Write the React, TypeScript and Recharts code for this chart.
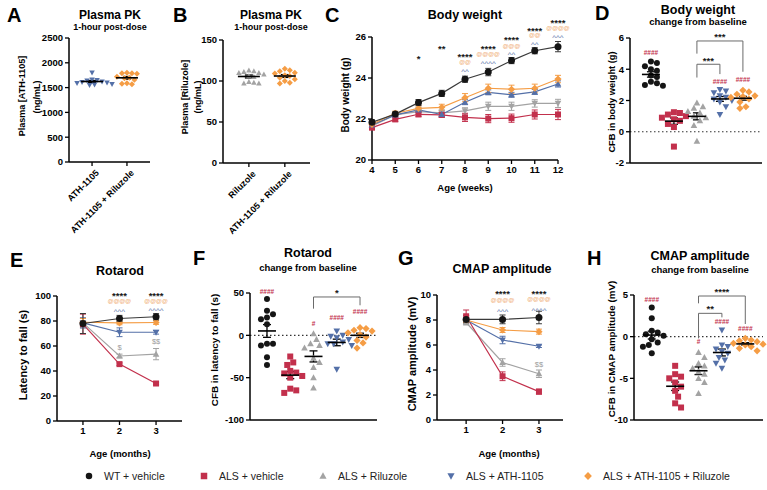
import React from 'react';
import {
  ScatterChart,
  ComposedChart,
  Scatter,
  Line,
  XAxis,
  YAxis,
  ErrorBar,
  ReferenceLine,
  ReferenceDot,
} from 'recharts';

const FONT = '"Liberation Sans", Arial, Helvetica, sans-serif';

type Kind = 'circle' | 'square' | 'up' | 'down' | 'diamond';
type GroupKey = 'wt' | 'als' | 'ril' | 'ath' | 'combo';

const GROUPS: Record<GroupKey, { name: string; color: string; line: string; kind: Kind }> = {
  wt: { name: 'WT + vehicle', color: '#151515', line: '#3a3a3a', kind: 'circle' },
  als: { name: 'ALS + vehicle', color: '#c2304c', line: '#c2304c', kind: 'square' },
  ril: { name: 'ALS + Riluzole', color: '#a3a3a3', line: '#a3a3a3', kind: 'up' },
  ath: { name: 'ALS + ATH-1105', color: '#5470a8', line: '#5470a8', kind: 'down' },
  combo: { name: 'ALS + ATH-1105 + Riluzole', color: '#f59d45', line: '#f59d45', kind: 'diamond' },
};
const LEGEND_ORDER: GroupKey[] = ['wt', 'als', 'ril', 'ath', 'combo'];

// ---- Plasma PK, 1 h post-dose
const pkAthLabels = ['ATH-1105', 'ATH-1105 + Riluzole'];
const pkAth_ath = [1800, 1660, 1650, 1640, 1620, 1610, 1600, 1590, 1570, 1560, 1550];
const pkAth_combo = [1800, 1790, 1790, 1780, 1720, 1700, 1690, 1660, 1590, 1580, 1570];

const pkRilLabels = ['Riluzole', 'ATH-1105 + Riluzole'];
const pkRil_ril = [113, 112, 111, 110, 110, 108, 106, 105, 99, 98, 97, 97];
const pkRil_combo = [115, 113, 112, 110, 109, 107, 106, 104, 102, 100, 98, 97];

// ---- Body weight by week (mean, SEM)
const weeks = [4, 5, 6, 7, 8, 9, 10, 11, 12];
const bw_wt = [21.84, 22.24, 22.8, 23.25, 23.94, 24.29, 24.85, 25.33, 25.53];
const bw_wtErr = [0.12, 0.1, 0.15, 0.15, 0.15, 0.18, 0.15, 0.15, 0.25];
const bw_als = [21.58, 21.98, 22.23, 22.2, 22.08, 22.02, 22.04, 22.22, 22.22];
const bw_alsErr = [0.1, 0.1, 0.12, 0.12, 0.2, 0.2, 0.2, 0.22, 0.25];
const bw_ril = [21.66, 22.2, 22.36, 22.3, 22.4, 22.62, 22.62, 22.76, 22.76];
const bw_rilErr = [0.1, 0.1, 0.12, 0.15, 0.15, 0.2, 0.2, 0.18, 0.2];
const bw_ath = [21.71, 22.2, 22.44, 22.22, 22.82, 23.3, 23.18, 23.32, 23.71];
const bw_athErr = [0.1, 0.1, 0.1, 0.12, 0.12, 0.12, 0.12, 0.12, 0.15];
const bw_combo = [21.74, 22.28, 22.52, 22.57, 23.04, 23.5, 23.45, 23.5, 23.95];
const bw_comboErr = [0.1, 0.1, 0.12, 0.15, 0.2, 0.2, 0.2, 0.2, 0.18];

// ---- Body weight change from baseline
const bwCfb_wt = [4.5, 4.4, 4.2, 4.0, 3.9, 3.6, 3.5, 3.2, 3.1, 3.0, 2.95];
const bwCfb_als = [1.25, 1.2, 1.1, 1.0, 0.9, 0.8, 0.7, 0.5, 0.3, -0.95];
const bwCfb_ril = [1.85, 1.6, 1.5, 1.3, 1.2, 1.0, 0.9, 0.7, 0.4, -0.6];
const bwCfb_ath = [2.7, 2.6, 2.5, 2.3, 2.2, 2.1, 2.0, 1.9, 1.6, 1.1];
const bwCfb_combo = [2.65, 2.55, 2.4, 2.3, 2.25, 2.2, 2.1, 1.9, 1.6, 1.5];

// ---- Rotarod by month
const months = [1, 2, 3];
const rr_wt = [78, 82, 83.4];
const rr_wtErr = [8, 2.5, 2.5];
const rr_als = [77.5, 45.5, 30];
const rr_alsErr = [8, 1, 1];
const rr_ril = [78.5, 52, 53.5];
const rr_rilErr = [4, 1.5, 4.5];
const rr_ath = [78.5, 71, 71];
const rr_athErr = [4, 3.5, 1.5];
const rr_combo = [79, 78.5, 78.8];
const rr_comboErr = [3, 1.5, 1.5];

// ---- Rotarod change from baseline
const rrCfb_wt = [43, 29, 25, 21, 19, 13, -10, -10, -12, -26, -35];
const rrCfb_als = [-25, -32, -35, -42, -44, -45, -48, -50, -63, -65, -68];
const rrCfb_ril = [2, -5, -10, -12, -15, -27, -32, -38, -50, -62];
const rrCfb_ath = [5, 0, -1, -3, -5, -8, -10, -10, -12, -40];
const rrCfb_combo = [9, 8, 6, 5, 3, 1, -2, -6, -9, -15];

// ---- CMAP amplitude by month
const cm_wt = [8.05, 8.05, 8.2];
const cm_wtErr = [0.3, 0.35, 0.5];
const cm_als = [8.3, 3.5, 2.27];
const cm_alsErr = [0.5, 0.35, 0.2];
const cm_ril = [7.8, 4.6, 3.7];
const cm_rilErr = [0.2, 0.3, 0.3];
const cm_ath = [8.0, 6.4, 5.9];
const cm_athErr = [0.2, 0.3, 0.1];
const cm_combo = [8.0, 7.2, 7.07];
const cm_comboErr = [0.2, 0.2, 0.2];

// ---- CMAP change from baseline
const cmCfb_wt = [3.5, 2.2, 0.7, 0.5, 0.3, 0.1, -0.3, -0.7, -1.0, -1.2, -2.0];
const cmCfb_als = [-3.5, -4.5, -4.8, -5.0, -5.5, -6.0, -6.5, -7.2, -8.0, -8.5];
const cmCfb_ril = [-1.9, -2.5, -3.2, -3.5, -3.8, -4.2, -4.5, -5.0, -5.5, -6.8];
const cmCfb_ath = [0.8, -1.0, -1.2, -1.5, -1.8, -2.0, -2.5, -2.8, -3.2, -3.8];
const cmCfb_combo = [-0.2, -0.4, -0.5, -0.6, -0.8, -0.9, -1.0, -1.2, -1.4, -1.7];

// ---- significance marks (x, y in data units)
type NoteKind = 'star' | 'at' | 'caret' | 'hash' | 'dollar';
type Note = { x: number; y: number; text: string; kind: NoteKind };
type Bracket = { from: number; to: number; top: number; left: number; right: number };

const bwNotes: Note[] = [
  { x: 6, y: 25.1, text: '*', kind: 'star' },
  { x: 7, y: 25.6, text: '**', kind: 'star' },
  { x: 8, y: 25.2, text: '****', kind: 'star' },
  { x: 8, y: 24.8, text: '@@', kind: 'at' },
  { x: 8, y: 24.42, text: '^^', kind: 'caret' },
  { x: 9, y: 25.6, text: '****', kind: 'star' },
  { x: 9, y: 25.2, text: '@@@@', kind: 'at' },
  { x: 9, y: 24.83, text: '^^^^', kind: 'caret' },
  { x: 10, y: 26.0, text: '****', kind: 'star' },
  { x: 10, y: 25.6, text: '@@@', kind: 'at' },
  { x: 10, y: 25.25, text: '^^', kind: 'caret' },
  { x: 11, y: 26.47, text: '****', kind: 'star' },
  { x: 11, y: 26.1, text: '@@', kind: 'at' },
  { x: 11, y: 25.74, text: '^^', kind: 'caret' },
  { x: 12, y: 26.86, text: '****', kind: 'star' },
  { x: 12, y: 26.45, text: '@@@@', kind: 'at' },
  { x: 12, y: 26.1, text: '^^^', kind: 'caret' },
];

const bwCfbNotes: Note[] = [
  { x: 1, y: 5.11, text: '####', kind: 'hash' },
  { x: 4, y: 3.24, text: '####', kind: 'hash' },
  { x: 5, y: 3.35, text: '####', kind: 'hash' },
  { x: 4, y: 6.28, text: '***', kind: 'star' },
  { x: 3.5, y: 4.75, text: '***', kind: 'star' },
];
const bwCfbBrackets: Bracket[] = [
  { from: 3, to: 5, top: 5.81, left: 5.0, right: 3.84 },
  { from: 3, to: 4, top: 4.32, left: 3.47, right: 3.69 },
];

const rrNotes: Note[] = [
  { x: 2, y: 102.7, text: '****', kind: 'star' },
  { x: 2, y: 96, text: '@@@@', kind: 'at' },
  { x: 2, y: 89.8, text: '^^^', kind: 'caret' },
  { x: 2, y: 58.8, text: '$', kind: 'dollar' },
  { x: 3, y: 102.7, text: '****', kind: 'star' },
  { x: 3, y: 96.3, text: '@@@@', kind: 'at' },
  { x: 3, y: 90, text: '^^^^', kind: 'caret' },
  { x: 3, y: 64.2, text: '$$', kind: 'dollar' },
];

const rrCfbNotes: Note[] = [
  { x: 1, y: 52, text: '####', kind: 'hash' },
  { x: 3, y: 13.9, text: '#', kind: 'hash' },
  { x: 4, y: 21, text: '####', kind: 'hash' },
  { x: 5, y: 28.8, text: '####', kind: 'hash' },
  { x: 4, y: 54.3, text: '*', kind: 'star' },
];
const rrCfbBrackets: Bracket[] = [{ from: 3, to: 5, top: 45.3, left: 31.5, right: 35.5 }];

const cmNotes: Note[] = [
  { x: 2, y: 10.35, text: '****', kind: 'star' },
  { x: 2, y: 9.6, text: '@@@@', kind: 'at' },
  { x: 2, y: 8.85, text: '^^^', kind: 'caret' },
  { x: 3, y: 10.35, text: '****', kind: 'star' },
  { x: 3, y: 9.68, text: '@@@@', kind: 'at' },
  { x: 3, y: 8.99, text: '^^^^', kind: 'caret' },
  { x: 3, y: 4.48, text: '$$', kind: 'dollar' },
];

const cmCfbNotes: Note[] = [
  { x: 1, y: 4.52, text: '####', kind: 'hash' },
  { x: 3, y: -0.6, text: '#', kind: 'hash' },
  { x: 4, y: 1.8, text: '####', kind: 'hash' },
  { x: 5, y: 1.0, text: '####', kind: 'hash' },
  { x: 4, y: 5.8, text: '****', kind: 'star' },
  { x: 3.5, y: 3.68, text: '**', kind: 'star' },
];
const cmCfbBrackets: Bracket[] = [
  { from: 3, to: 5, top: 4.88, left: 4.0, right: 1.52 },
  { from: 3, to: 4, top: 2.8, left: -0.2, right: 2.32 },
];

// ---- helpers
const mean = (a: number[]) => a.reduce((s, v) => s + v, 0) / a.length;
const sem = (a: number[]) => {
  const m = mean(a);
  const sd = Math.sqrt(a.reduce((s, v) => s + (v - m) ** 2, 0) / (a.length - 1));
  return sd / Math.sqrt(a.length);
};

// simple beeswarm so that overlapping dots spread sideways
function swarm(values: number[], center: number, pxX: number, pxY: number, gap: number) {
  const placed: { dx: number; py: number; v: number }[] = [];
  [...values]
    .sort((a, b) => b - a)
    .forEach((v) => {
      const py = v * pxY;
      let dx = 0;
      for (let k = 0; k < 20; k++) {
        const cand = k === 0 ? 0 : (k % 2 === 1 ? 1 : -1) * Math.ceil(k / 2) * gap * 0.5;
        if (placed.every((p) => Math.hypot(p.dx - cand, p.py - py) >= gap)) {
          dx = cand;
          break;
        }
      }
      placed.push({ dx, py, v });
    });
  return placed.map((p) => ({ x: center + p.dx / pxX, y: p.v }));
}

function Marker({ kind, cx, cy, size, fill }: { kind: Kind; cx: number; cy: number; size: number; fill: string }) {
  const h = size / 2;
  switch (kind) {
    case 'circle':
      return <circle cx={cx} cy={cy} r={h} fill={fill} />;
    case 'square':
      return <rect x={cx - h} y={cy - h} width={size} height={size} fill={fill} />;
    case 'up':
      return <polygon points={`${cx},${cy - h * 1.15} ${cx + h * 1.1},${cy + h * 0.85} ${cx - h * 1.1},${cy + h * 0.85}`} fill={fill} />;
    case 'down':
      return <polygon points={`${cx},${cy + h * 1.15} ${cx + h * 1.1},${cy - h * 0.85} ${cx - h * 1.1},${cy - h * 0.85}`} fill={fill} />;
    default:
      return <polygon points={`${cx},${cy - h * 1.2} ${cx + h * 1.2},${cy} ${cx},${cy + h * 1.2} ${cx - h * 1.2},${cy}`} fill={fill} />;
  }
}

const NOTE_STYLE: Record<NoteKind, { color: string; size: number; dy: string; weight: number }> = {
  star: { color: '#1a1a1a', size: 9.5, dy: '0.3em', weight: 700 },
  at: { color: '#f0ae76', size: 6, dy: '0.05em', weight: 700 },
  caret: { color: '#5470a8', size: 8, dy: '0.3em', weight: 400 },
  hash: { color: '#c2304c', size: 6.5, dy: '0.05em', weight: 700 },
  dollar: { color: '#9a9a9a', size: 7.5, dy: '0.05em', weight: 400 },
};

function NoteText({ cx, cy, note }: { cx: number; cy: number; note: Note }) {
  const s = NOTE_STYLE[note.kind];
  return (
    <text x={cx} y={cy} dy={s.dy} textAnchor="middle" dominantBaseline="central" fill={s.color} fontSize={s.size} fontWeight={s.weight} fontFamily={FONT}>
      {note.text}
    </text>
  );
}

const renderNotes = (notes: Note[]) =>
  notes.map((n, i) => (
    <ReferenceDot
      key={`n${i}`}
      x={n.x}
      y={n.y}
      r={0}
      ifOverflow="visible"
      shape={(p: any) => <NoteText cx={p.cx} cy={p.cy} note={n} />}
    />
  ));

const renderBrackets = (brackets: Bracket[]) =>
  brackets.flatMap((b, i) => {
    const common = { stroke: '#6a6a6a', strokeWidth: 1, ifOverflow: 'visible' as const };
    return [
      <ReferenceLine key={`b${i}a`} segment={[{ x: b.from, y: b.left }, { x: b.from, y: b.top }]} {...common} />,
      <ReferenceLine key={`b${i}b`} segment={[{ x: b.from, y: b.top }, { x: b.to, y: b.top }]} {...common} />,
      <ReferenceLine key={`b${i}c`} segment={[{ x: b.to, y: b.top }, { x: b.to, y: b.right }]} {...common} />,
    ];
  });

const YW = 36;
const MT = 44;
const MR = 14;
const AXIS = { stroke: '#000', strokeWidth: 1.5 };
const TICK = { stroke: '#000', strokeWidth: 1.3 };
const TICK_TEXT = { fill: '#000', fontSize: 9.5, fontWeight: 700, fontFamily: FONT };

type Plot = { x0: number; y0: number; x1: number; y1: number };

function SlantTick({ x, y, payload, labels }: any) {
  const ax = x + 3;
  const ay = y + 1;
  return (
    <text x={ax} y={ay} transform={`rotate(-45 ${ax} ${ay})`} textAnchor="end" dominantBaseline="hanging" fontSize={9} fontWeight={700} fontFamily={FONT} fill="#000">
      {labels[Math.round(payload.value) - 1]}
    </text>
  );
}

type DotSet = { group: GroupKey; values: number[] };

function DotPanel({
  plot,
  xDomain,
  yDomain,
  yTicks,
  sets,
  notes = [],
  brackets = [],
  zero = false,
  xLabels,
  half = 9,
  size = 6,
}: {
  plot: Plot;
  xDomain: [number, number];
  yDomain: [number, number];
  yTicks: number[];
  sets: DotSet[];
  notes?: Note[];
  brackets?: Bracket[];
  zero?: boolean;
  xLabels?: string[];
  half?: number;
  size?: number;
}) {
  const xh = xLabels ? 90 : 8;
  const width = plot.x1 - plot.x0 + YW + MR;
  const height = plot.y1 - plot.y0 + MT + xh;
  const pxX = (plot.x1 - plot.x0) / (xDomain[1] - xDomain[0]);
  const pxY = (plot.y1 - plot.y0) / (yDomain[1] - yDomain[0]);
  return (
    <div style={{ position: 'absolute', left: plot.x0 - YW, top: plot.y0 - MT }}>
      <ScatterChart width={width} height={height} margin={{ top: MT, right: MR, left: 0, bottom: 0 }}>
        <XAxis
          type="number"
          dataKey="x"
          domain={xDomain}
          ticks={xLabels ? xLabels.map((_, i) => i + 1) : [1]}
          interval={0}
          height={xh}
          axisLine={AXIS}
          tickLine={xLabels ? TICK : false}
          tickSize={4}
          tick={xLabels ? (p: any) => <SlantTick {...p} labels={xLabels} /> : false}
        />
        <YAxis
          type="number"
          dataKey="y"
          domain={yDomain}
          ticks={yTicks}
          interval={0}
          width={YW}
          axisLine={AXIS}
          tickLine={TICK}
          tickSize={4}
          tick={TICK_TEXT}
        />
        {zero && <ReferenceLine y={0} stroke="#333" strokeWidth={1.2} strokeDasharray="1.5 2.5" />}
        {sets.map((s, i) => {
          const g = GROUPS[s.group];
          return (
            <Scatter
              key={`pts${i}`}
              data={swarm(s.values, i + 1, pxX, pxY, size)}
              isAnimationActive={false}
              shape={(p: any) => <Marker kind={g.kind} cx={p.cx} cy={p.cy} size={size} fill={g.color} />}
            />
          );
        })}
        {sets.map((s, i) => (
          <Scatter
            key={`avg${i}`}
            data={[{ x: i + 1, y: mean(s.values), err: sem(s.values) }]}
            isAnimationActive={false}
            shape={(p: any) => <line x1={p.cx - half} x2={p.cx + half} y1={p.cy} y2={p.cy} stroke="#000" strokeWidth={1.6} />}
          >
            <ErrorBar dataKey="err" direction="y" width={4} stroke="#000" strokeWidth={1.3} />
          </Scatter>
        ))}
        {renderBrackets(brackets)}
        {renderNotes(notes)}
      </ScatterChart>
    </div>
  );
}

type Series = { group: GroupKey; values: number[]; errs: number[] };

function LinePanel({
  plot,
  xs,
  xDomain,
  yDomain,
  yTicks,
  series,
  notes,
  kinds = {},
}: {
  plot: Plot;
  xs: number[];
  xDomain: [number, number];
  yDomain: [number, number];
  yTicks: number[];
  series: Series[];
  notes: Note[];
  kinds?: Partial<Record<GroupKey, Kind>>;
}) {
  const xh = 24;
  const width = plot.x1 - plot.x0 + YW + MR;
  const height = plot.y1 - plot.y0 + MT + xh;
  const rows = xs.map((x, i) => {
    const row: Record<string, number> = { x };
    series.forEach((s) => {
      row[s.group] = s.values[i];
      row[`${s.group}Err`] = s.errs[i];
    });
    return row;
  });
  return (
    <div style={{ position: 'absolute', left: plot.x0 - YW, top: plot.y0 - MT }}>
      <ComposedChart width={width} height={height} data={rows} margin={{ top: MT, right: MR, left: 0, bottom: 0 }}>
        <XAxis
          type="number"
          dataKey="x"
          domain={xDomain}
          ticks={xs}
          interval={0}
          height={xh}
          axisLine={AXIS}
          tickLine={TICK}
          tickSize={4}
          tick={TICK_TEXT}
        />
        <YAxis
          type="number"
          domain={yDomain}
          ticks={yTicks}
          interval={0}
          width={YW}
          axisLine={AXIS}
          tickLine={TICK}
          tickSize={4}
          tick={TICK_TEXT}
        />
        {series.map((s) => {
          const g = GROUPS[s.group];
          const kind = kinds[s.group] ?? g.kind;
          return (
            <Line
              key={s.group}
              type="linear"
              dataKey={s.group}
              stroke={g.line}
              strokeWidth={1.2}
              isAnimationActive={false}
              activeDot={false}
              dot={(p: any) => (
                <Marker key={`${s.group}-${p.index}`} kind={kind} cx={p.cx} cy={p.cy} size={s.group === 'wt' ? 7 : 6} fill={g.color} />
              )}
            >
              <ErrorBar dataKey={`${s.group}Err`} direction="y" width={3} stroke={g.line} strokeWidth={1} />
            </Line>
          );
        })}
        {renderNotes(notes)}
      </ComposedChart>
    </div>
  );
}

// ---- text drawn around the panels
const panelLetters = [
  { t: 'A', x: 7, y: 22 },
  { t: 'B', x: 173, y: 22 },
  { t: 'C', x: 325, y: 22 },
  { t: 'D', x: 595, y: 20 },
  { t: 'E', x: 10, y: 267 },
  { t: 'F', x: 193, y: 265 },
  { t: 'G', x: 398, y: 265 },
  { t: 'H', x: 587, y: 265 },
];

const titles = [
  { t: 'Plasma PK', x: 110, y: 18.5, s: 12 },
  { t: '1-hour post-dose', x: 110, y: 30, s: 9 },
  { t: 'Plasma PK', x: 271, y: 18.5, s: 12 },
  { t: '1-hour post-dose', x: 271, y: 30, s: 9 },
  { t: 'Body weight', x: 465, y: 19, s: 12.5 },
  { t: 'Body weight', x: 698, y: 13.5, s: 12.5 },
  { t: 'change from baseline', x: 698, y: 25, s: 9.5 },
  { t: 'Rotarod', x: 120, y: 275, s: 12.5 },
  { t: 'Rotarod', x: 308, y: 257, s: 12.5 },
  { t: 'change from baseline', x: 308, y: 271, s: 9.5 },
  { t: 'CMAP amplitude', x: 502, y: 273, s: 12.5 },
  { t: 'CMAP amplitude', x: 700, y: 260, s: 12.5 },
  { t: 'change from baseline', x: 700, y: 273, s: 9.5 },
];

const yTitles = [
  { t: 'Plasma [ATH-1105]', x: 22, y: 96, s: 9 },
  { t: '(ng/mL)', x: 37, y: 97, s: 9 },
  { t: 'Plasma [Riluzole]', x: 185, y: 97, s: 9 },
  { t: '(ng/mL)', x: 198, y: 97, s: 9 },
  { t: 'Body weight (g)', x: 345, y: 95, s: 10 },
  { t: 'CFB in body weight (g)', x: 612, y: 102, s: 9.3 },
  { t: 'Latency to fall (s)', x: 23, y: 355, s: 11 },
  { t: 'CFB in latency to fall (s)', x: 214, y: 350, s: 9.9 },
  { t: 'CMAP amplitude (mV)', x: 412, y: 354, s: 11 },
  { t: 'CFB in CMAP amplitude (mV)', x: 611, y: 349, s: 9.8 },
];

const xTitles = [
  { t: 'Age (weeks)', x: 465, y: 191 },
  { t: 'Age (months)', x: 120, y: 457 },
  { t: 'Age (months)', x: 509, y: 457 },
];

const legendMarkX = [89, 204, 323, 451, 588];

function Overlay() {
  return (
    <svg width={767} height={490} style={{ position: 'absolute', left: 0, top: 0, pointerEvents: 'none' }} fontFamily={FONT}>
      {panelLetters.map((l) => (
        <text key={l.t} x={l.x} y={l.y} fontSize={20} fontWeight={700} fill="#000">
          {l.t}
        </text>
      ))}
      {titles.map((l, i) => (
        <text key={`t${i}`} x={l.x} y={l.y} fontSize={l.s} fontWeight={700} textAnchor="middle" fill="#000">
          {l.t}
        </text>
      ))}
      {yTitles.map((l, i) => (
        <text
          key={`y${i}`}
          x={l.x}
          y={l.y}
          fontSize={l.s}
          fontWeight={700}
          textAnchor="middle"
          dominantBaseline="central"
          transform={`rotate(-90 ${l.x} ${l.y})`}
          fill="#000"
        >
          {l.t}
        </text>
      ))}
      {xTitles.map((l, i) => (
        <text key={`x${i}`} x={l.x} y={l.y} fontSize={9.5} fontWeight={700} textAnchor="middle" fill="#000">
          {l.t}
        </text>
      ))}
      {LEGEND_ORDER.map((k, i) => (
        <g key={k}>
          <Marker kind={GROUPS[k].kind} cx={legendMarkX[i]} cy={476} size={6.5} fill={GROUPS[k].color} />
          <text x={legendMarkX[i] + 15} y={476} dominantBaseline="central" fontSize={10.5} fill="#222">
            {GROUPS[k].name}
          </text>
        </g>
      ))}
    </svg>
  );
}

export default function App() {
  return (
    <div style={{ position: 'absolute', left: 0, top: 0, width: 767, height: 490, overflow: 'hidden', background: '#fff', fontFamily: FONT }}>
      <DotPanel
        plot={{ x0: 69, y0: 38, x1: 150, y1: 162 }}
        xDomain={[0.34, 2.66]}
        yDomain={[0, 2500]}
        yTicks={[0, 500, 1000, 1500, 2000, 2500]}
        sets={[
          { group: 'ath', values: pkAth_ath },
          { group: 'combo', values: pkAth_combo },
        ]}
        xLabels={pkAthLabels}
        half={11}
        size={5}
      />
      <DotPanel
        plot={{ x0: 223, y0: 40, x1: 310, y1: 163 }}
        xDomain={[0.28, 2.7]}
        yDomain={[0, 150]}
        yTicks={[0, 50, 100, 150]}
        sets={[
          { group: 'ril', values: pkRil_ril },
          { group: 'combo', values: pkRil_combo },
        ]}
        xLabels={pkRilLabels}
        half={11}
        size={5}
      />
      <LinePanel
        plot={{ x0: 372, y0: 37, x1: 558, y1: 160 }}
        xs={weeks}
        xDomain={[4, 12]}
        yDomain={[20, 26]}
        yTicks={[20, 22, 24, 26]}
        kinds={{ ril: 'down', ath: 'up' }}
        series={[
          { group: 'ril', values: bw_ril, errs: bw_rilErr },
          { group: 'als', values: bw_als, errs: bw_alsErr },
          { group: 'ath', values: bw_ath, errs: bw_athErr },
          { group: 'combo', values: bw_combo, errs: bw_comboErr },
          { group: 'wt', values: bw_wt, errs: bw_wtErr },
        ]}
        notes={bwNotes}
      />
      <DotPanel
        plot={{ x0: 630, y0: 38, x1: 762, y1: 163 }}
        xDomain={[0.09, 5.83]}
        yDomain={[-2, 6]}
        yTicks={[-2, 0, 2, 4, 6]}
        sets={[
          { group: 'wt', values: bwCfb_wt },
          { group: 'als', values: bwCfb_als },
          { group: 'ril', values: bwCfb_ril },
          { group: 'ath', values: bwCfb_ath },
          { group: 'combo', values: bwCfb_combo },
        ]}
        notes={bwCfbNotes}
        brackets={bwCfbBrackets}
        zero
      />
      <LinePanel
        plot={{ x0: 57, y0: 296, x1: 182, y1: 421 }}
        xs={months}
        xDomain={[0.29, 3.71]}
        yDomain={[0, 100]}
        yTicks={[0, 20, 40, 60, 80, 100]}
        series={[
          { group: 'als', values: rr_als, errs: rr_alsErr },
          { group: 'ril', values: rr_ril, errs: rr_rilErr },
          { group: 'ath', values: rr_ath, errs: rr_athErr },
          { group: 'combo', values: rr_combo, errs: rr_comboErr },
          { group: 'wt', values: rr_wt, errs: rr_wtErr },
        ]}
        notes={rrNotes}
      />
      <DotPanel
        plot={{ x0: 250, y0: 293, x1: 377, y1: 420 }}
        xDomain={[0.27, 5.73]}
        yDomain={[-100, 50]}
        yTicks={[-100, -50, 0, 50]}
        sets={[
          { group: 'wt', values: rrCfb_wt },
          { group: 'als', values: rrCfb_als },
          { group: 'ril', values: rrCfb_ril },
          { group: 'ath', values: rrCfb_ath },
          { group: 'combo', values: rrCfb_combo },
        ]}
        notes={rrCfbNotes}
        brackets={rrCfbBrackets}
        zero
      />
      <LinePanel
        plot={{ x0: 437, y0: 295, x1: 563, y1: 420 }}
        xs={months}
        xDomain={[0.2, 3.66]}
        yDomain={[0, 10]}
        yTicks={[0, 2, 4, 6, 8, 10]}
        series={[
          { group: 'ril', values: cm_ril, errs: cm_rilErr },
          { group: 'als', values: cm_als, errs: cm_alsErr },
          { group: 'ath', values: cm_ath, errs: cm_athErr },
          { group: 'combo', values: cm_combo, errs: cm_comboErr },
          { group: 'wt', values: cm_wt, errs: cm_wtErr },
        ]}
        notes={cmNotes}
      />
      <DotPanel
        plot={{ x0: 634, y0: 295, x1: 763, y1: 420 }}
        xDomain={[0.24, 5.67]}
        yDomain={[-10, 5]}
        yTicks={[-10, -5, 0, 5]}
        sets={[
          { group: 'wt', values: cmCfb_wt },
          { group: 'als', values: cmCfb_als },
          { group: 'ril', values: cmCfb_ril },
          { group: 'ath', values: cmCfb_ath },
          { group: 'combo', values: cmCfb_combo },
        ]}
        notes={cmCfbNotes}
        brackets={cmCfbBrackets}
        zero
      />
      <Overlay />
    </div>
  );
}
